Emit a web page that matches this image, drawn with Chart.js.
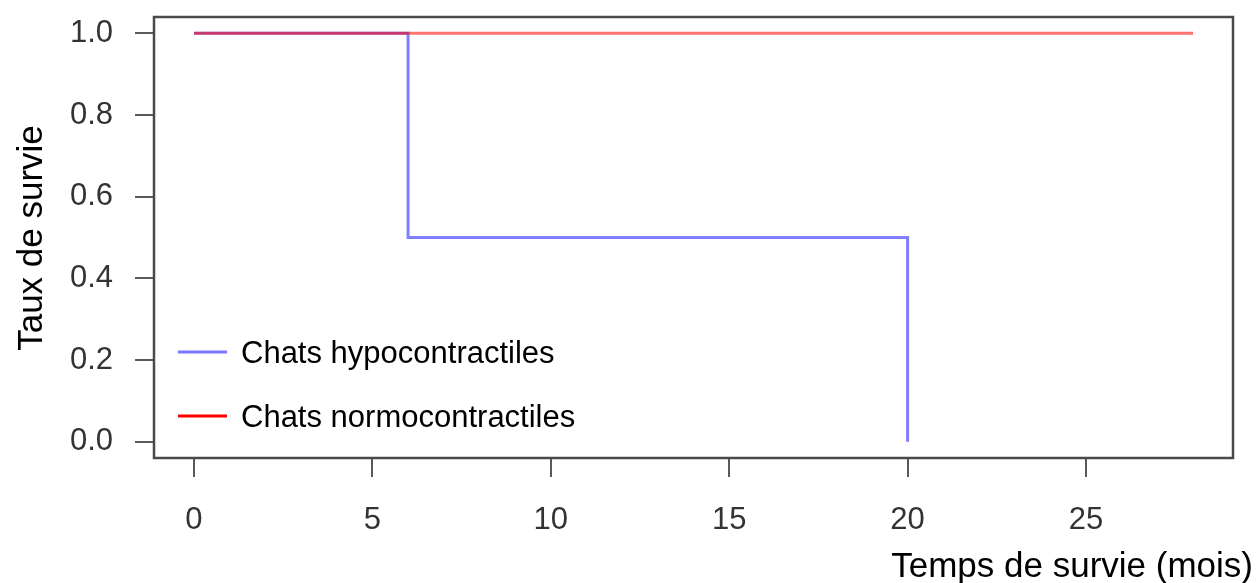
<!DOCTYPE html>
<html>
<head>
<meta charset="utf-8">
<script src="https://cdn.jsdelivr.net/npm/chart.js@4.4.1/dist/chart.umd.min.js"></script>
<style>
  body { margin: 0; background: #fff; }
  #wrap { width: 1259px; height: 583px; }
</style>
</head>
<body>
<div id="wrap"><canvas id="survie" width="1259" height="583"></canvas></div>
<script>
// Kaplan-Meier steps
const hypoTimes = [0, 6, 20];
const hypoSurv = [1, 0.5, 0];
const normoTimes = [0, 28];
const normoSurv = [1, 1];

const seriesNames = ["Chats hypocontractiles", "Chats normocontractiles"];
const xTicks = [0, 5, 10, 15, 20, 25];
const yTicks = [0, 0.2, 0.4, 0.6, 0.8, 1.0];

const xTitle = "Temps de survie (mois)";
const yTitle = "Taux de survie";

const blue = "rgba(0, 0, 255, 0.5)";
const red = "rgba(255, 0, 0, 0.55)";
const FONT = "'Liberation Sans', Arial, Helvetica, sans-serif";

const toPoints = (xs, ys) => xs.map((x, i) => ({ x: x, y: ys[i] }));

// box around the plot, axis titles and the legend, drawn like R does it
const rStyle = {
  id: "rStyle",
  afterDraw(chart) {
    const ctx = chart.ctx;
    const a = chart.chartArea;
    ctx.save();
    ctx.strokeStyle = "#4a4a4a";
    ctx.lineWidth = 2.5;
    ctx.strokeRect(a.left, a.top, a.right - a.left, a.bottom - a.top);

    ctx.fillStyle = "#000";
    ctx.font = "35px " + FONT;
    ctx.textAlign = "right";
    ctx.textBaseline = "alphabetic";
    ctx.fillText(xTitle, 1253, 577);

    ctx.save();
    ctx.translate(42, 238);
    ctx.rotate(-Math.PI / 2);
    ctx.font = "35px " + FONT;
    ctx.textAlign = "center";
    ctx.fillText(yTitle, 0, 0);
    ctx.restore();

    // legend
    const ds = chart.data.datasets;
    const rows = [352, 416];
    ctx.font = "31px " + FONT;
    ctx.textAlign = "left";
    ds.forEach((d, i) => {
      ctx.strokeStyle = d.legendColor;
      ctx.lineWidth = 3;
      ctx.beginPath();
      ctx.moveTo(178, rows[i]);
      ctx.lineTo(227, rows[i]);
      ctx.stroke();
      ctx.fillStyle = "#000";
      ctx.fillText(d.label, 241, rows[i] + 11);
    });
    ctx.restore();
  }
};

const ctx = document.getElementById("survie").getContext("2d");
const survieChart = new Chart(ctx, {
  type: "scatter",
  data: {
    datasets: [
      {
        label: seriesNames[0],
        data: toPoints(hypoTimes, hypoSurv),
        showLine: true,
        stepped: "before",
        borderColor: blue,
        legendColor: "#7878ff",
        borderWidth: 3,
        pointRadius: 0,
        order: 1
      },
      {
        label: seriesNames[1],
        data: toPoints(normoTimes, normoSurv),
        showLine: true,
        stepped: "before",
        borderColor: red,
        legendColor: "#ff0000",
        borderWidth: 3,
        pointRadius: 0,
        order: 0
      }
    ]
  },
  options: {
    responsive: false,
    animation: false,
    layout: { padding: { left: 0, top: 17, right: 26, bottom: 0 } },
    plugins: {
      legend: { display: false },
      tooltip: { enabled: false }
    },
    scales: {
      x: {
        type: "linear",
        min: -1.12,
        max: 29.12,
        afterBuildTicks: (scale) => { scale.ticks = xTicks.map(v => ({ value: v })); },
        afterFit: (scale) => {
          scale.height = 125;
          scale.paddingLeft = 0;
          scale.paddingRight = 0;
        },
        border: { display: false },
        grid: {
          drawOnChartArea: false,
          drawTicks: true,
          tickLength: 19,
          color: "#5a5a5a",
          lineWidth: 2
        },
        ticks: {
          padding: 25,
          color: "#333",
          font: { family: FONT, size: 31 },
          maxRotation: 0
        }
      },
      y: {
        min: -0.04,
        max: 1.04,
        afterBuildTicks: (scale) => { scale.ticks = yTicks.map(v => ({ value: v })); },
        afterFit: (scale) => {
          scale.width = 154;
          scale.paddingTop = 0;
          scale.paddingBottom = 0;
        },
        border: { display: false },
        grid: {
          drawOnChartArea: false,
          drawTicks: true,
          tickLength: 19,
          color: "#5a5a5a",
          lineWidth: 2
        },
        ticks: {
          padding: 22,
          color: "#333",
          font: { family: FONT, size: 31 },
          callback: (v) => Number(v).toFixed(1)
        }
      }
    }
  },
  plugins: [rStyle]
});
</script>
</body>
</html>
